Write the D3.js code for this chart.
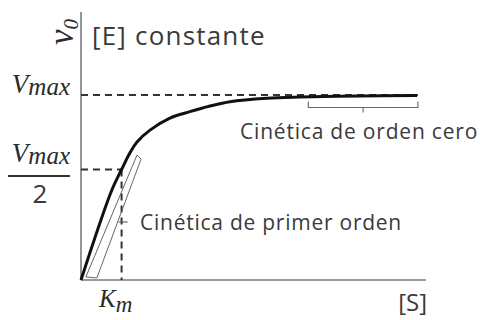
<!DOCTYPE html>
<html>
<head>
<meta charset="utf-8">
<script src="https://cdn.jsdelivr.net/npm/d3@7"></script>
<style>
  html, body { margin: 0; padding: 0; background: #fff; }
  svg { display: block; }
  .lbl { font-family: "Open Sans", sans-serif; fill: #3a3a3a; }
  .math { font-family: "Liberation Serif", "DejaVu Serif", serif; font-style: italic; fill: #2a2a2a; }
</style>
</head>
<body>
<svg id="chart" width="480" height="320"></svg>
<script>
// Michaelis–Menten saturation curve, [S] in units of Km, v0 in units of Vmax
const substrate = [0, 0.76, 1.0, 1.21, 1.38, 1.70, 2.19, 2.68, 3.18, 3.67, 4.58, 5.39, 6.87, 8.28];
const velocity  = [0, 0.407, 0.5, 0.614, 0.685, 0.764, 0.845, 0.888, 0.926, 0.955, 0.978, 0.986, 0.993, 0.997];

// reference levels
const kmValue = 1;
const vmaxValue = 1;
const halfVmaxValue = 0.5;
const sMax = 8.5;
const vTop = 1.45;
const vmaxLineEnd = 8.3;

// bracket spans
const zeroOrderSpan = [5.6, 8.3];
// frame around the linear region: [S], v0 corners
const frameS = [0.12, 0.39, 1.48, 1.38];
const frameV = [0.014, 0.009, 0.570, 0.597];

const svg = d3.select("#chart");

const x = d3.scaleLinear().domain([0, sMax]).range([81, 426]);
// schematic vertical axis: the half-saturation level is drawn a bit higher
const y = d3.scaleLinear().domain([0, halfVmaxValue, vmaxValue, vTop]).range([280, 169.5, 95, 12]);

const axisColor = "#7a7a7a";

// axes
svg.append("line").attr("x1", x(0)).attr("x2", x(0)).attr("y1", y(vTop)).attr("y2", y(0))
  .attr("stroke", axisColor).attr("stroke-width", 1.6);
svg.append("line").attr("x1", x(0)).attr("x2", x(sMax)).attr("y1", y(0)).attr("y2", y(0))
  .attr("stroke", axisColor).attr("stroke-width", 1.6);

// dashed guides
const dash = "7,5";
svg.append("line").attr("x1", x(0)).attr("x2", x(vmaxLineEnd)).attr("y1", y(vmaxValue)).attr("y2", y(vmaxValue))
  .attr("stroke", "#333").attr("stroke-width", 2).attr("stroke-dasharray", dash);
svg.append("line").attr("x1", x(0)).attr("x2", x(kmValue)).attr("y1", y(halfVmaxValue)).attr("y2", y(halfVmaxValue))
  .attr("stroke", "#333").attr("stroke-width", 2).attr("stroke-dasharray", dash);
svg.append("line").attr("x1", x(kmValue)).attr("x2", x(kmValue)).attr("y1", y(halfVmaxValue)).attr("y2", y(0))
  .attr("stroke", "#333").attr("stroke-width", 2).attr("stroke-dasharray", dash);

// thin frame around the first-order region
const frame = frameS.map((s, i) => [x(s), y(frameV[i])]);
svg.append("path")
  .attr("d", d3.line()(frame) + "Z")
  .attr("fill", "none").attr("stroke", "#555").attr("stroke-width", 0.9);

// saturation curve
const pts = substrate.map((s, i) => [s, velocity[i]]);
svg.append("path")
  .datum(pts)
  .attr("d", d3.line().x(d => x(d[0])).y(d => y(d[1])).curve(d3.curveCatmullRom.alpha(0.5)))
  .attr("fill", "none").attr("stroke", "#111").attr("stroke-width", 3);

// zero-order bracket
const bx0 = x(zeroOrderSpan[0]), bx1 = x(zeroOrderSpan[1]), by = y(vmaxValue) + 12.5;
svg.append("path")
  .attr("d", `M${bx0},${by - 6}V${by}H${bx1}V${by - 6}M${(bx0 + bx1) / 2},${by}v5`)
  .attr("fill", "none").attr("stroke", "#666").attr("stroke-width", 1.1);

// first-order pointer
svg.append("path")
  .attr("d", `M${x(kmValue) - 3},222H${x(kmValue) + 6}`)
  .attr("fill", "none").attr("stroke", "#555").attr("stroke-width", 1.1);

// text labels
svg.append("text").attr("class", "lbl").attr("x", 92).attr("y", 45)
  .attr("font-size", 26).attr("letter-spacing", 1.2).text("[E] constante");
svg.append("text").attr("class", "lbl").attr("x", 240).attr("y", 139)
  .attr("font-size", 21).attr("letter-spacing", 0.8).text("Cinética de orden cero");
svg.append("text").attr("class", "lbl").attr("x", 140).attr("y", 230)
  .attr("font-size", 21).attr("letter-spacing", 0.75).text("Cinética de primer orden");
svg.append("text").attr("class", "lbl").attr("x", 427).attr("y", 311)
  .attr("text-anchor", "end").attr("font-size", 24).text("[S]");

// v0 axis title
const vt = svg.append("text").attr("class", "math")
  .attr("transform", "translate(73,45) rotate(-90)")
  .attr("font-size", 35);
vt.append("tspan").text("v");
vt.append("tspan").attr("font-size", 21).attr("dy", 5).text("0");

// Vmax tick label
function vmaxLabel(xr, yb) {
  const t = svg.append("text").attr("class", "math").attr("x", xr).attr("y", yb)
    .attr("text-anchor", "end").attr("font-size", 27);
  t.append("tspan").text("V");
  t.append("tspan").attr("font-size", 25).attr("dy", 2).text("max");
  return t;
}
vmaxLabel(70, y(vmaxValue) - 2);

// Vmax/2 fraction
vmaxLabel(70, 162);
svg.append("line").attr("x1", 8).attr("x2", 70).attr("y1", 176).attr("y2", 176)
  .attr("stroke", "#333").attr("stroke-width", 1.8);
svg.append("text").attr("class", "lbl").attr("x", 40).attr("y", 203)
  .attr("text-anchor", "middle").attr("font-size", 26).text("2");

// Km tick label
const km = svg.append("text").attr("class", "math").attr("x", 99).attr("y", 307)
  .attr("font-size", 25);
km.append("tspan").text("K");
km.append("tspan").attr("font-size", 23).attr("dy", 5).text("m");
</script>
</body>
</html>
